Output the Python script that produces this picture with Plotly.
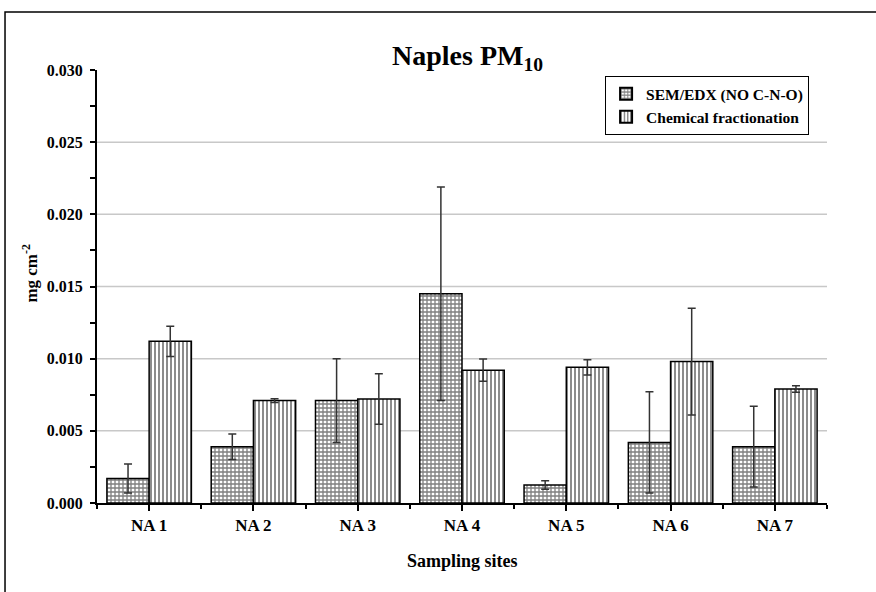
import plotly.graph_objects as go

# Sampling sites and measured PM10 deposits (mg cm-2)
sites = ["NA 1", "NA 2", "NA 3", "NA 4", "NA 5", "NA 6", "NA 7"]
sem_edx = [0.0017, 0.0039, 0.0071, 0.0145, 0.00125, 0.0042, 0.0039]
sem_edx_err = [0.0010, 0.00088, 0.0029, 0.0074, 0.0003, 0.0035, 0.0028]
chem_frac = [0.0112, 0.0071, 0.0072, 0.0092, 0.0094, 0.0098, 0.0079]
chem_frac_err = [0.00105, 0.00013, 0.00175, 0.00077, 0.00053, 0.0037, 0.00022]

y_ticks = [0.000, 0.005, 0.010, 0.015, 0.020, 0.025, 0.030]
grid_values = [0.005, 0.010, 0.015, 0.020, 0.025]

FONT = "Liberation Serif"
xpos = list(range(len(sites)))

fig = go.Figure()
fig.add_trace(go.Bar(
    name="<b>SEM/EDX (NO C-N-O)</b>", x=xpos, y=sem_edx,
    marker=dict(color="white", line=dict(color="black", width=1.5),
                pattern=dict(shape="+", size=4, solidity=0.55,
                             fgcolor="black", bgcolor="white")),
    error_y=dict(type="data", array=sem_edx_err, visible=True,
                 color="#333333", thickness=1.5, width=4),
))
fig.add_trace(go.Bar(
    name="<b>Chemical fractionation</b>", x=xpos, y=chem_frac,
    marker=dict(color="white", line=dict(color="black", width=1.5),
                pattern=dict(shape="|", size=4, solidity=0.45,
                             fgcolor="black", bgcolor="white")),
    error_y=dict(type="data", array=chem_frac_err, visible=True,
                 color="#333333", thickness=1.5, width=4),
))

# light horizontal grid lines
shapes = [dict(type="line", xref="paper", yref="y", x0=0, x1=1, y0=g, y1=g,
               line=dict(color="#c8c8c8", width=1.5), layer="below")
          for g in grid_values]
# outer frame around the figure
shapes.append(dict(type="rect", xref="paper", yref="paper",
                   x0=-0.126, x1=1.3, y0=-0.4, y1=1.134,
                   line=dict(color="black", width=1.5), layer="below"))

fig.update_layout(
    width=876, height=592,
    margin=dict(l=97, r=49, t=70, b=89),
    paper_bgcolor="white", plot_bgcolor="white",
    barmode="group", bargap=0.19, bargroupgap=0,
    font=dict(family=FONT, color="black"),
    shapes=shapes,
    showlegend=True,
    legend=dict(x=0.696, y=0.986, xanchor="left", yanchor="top",
                bordercolor="black", borderwidth=1, bgcolor="white",
                font=dict(family=FONT, size=15.5, color="black"),
                tracegroupgap=0, itemsizing="constant"),
    xaxis=dict(
        range=[-0.5, len(sites) - 0.5],
        tickmode="array", tickvals=xpos,
        ticktext=["<b>%s</b>" % s for s in sites],
        tickfont=dict(family=FONT, size=17),
        ticks="outside", ticklen=6, tickwidth=1.5, tickcolor="black",
        minor=dict(tickmode="linear", tick0=-0.5, dtick=1, ticks="outside",
                   ticklen=4, tickwidth=1.5, tickcolor="black"),
        showline=True, linecolor="black", linewidth=2,
        showgrid=False, zeroline=False,
    ),
    yaxis=dict(
        range=[0, 0.030],
        tickmode="array", tickvals=y_ticks,
        ticktext=["<b>%.3f</b>" % v for v in y_ticks],
        tickfont=dict(family=FONT, size=16),
        ticks="outside", ticklen=5, tickwidth=1.5, tickcolor="black",
        minor=dict(tickmode="linear", tick0=0, dtick=0.0025, ticks="outside",
                   ticklen=5, tickwidth=1.5, tickcolor="black"),
        showline=True, linecolor="black", linewidth=2,
        showgrid=False, zeroline=False,
        ticklabelstandoff=4,
    ),
    annotations=[
        dict(text="<b>Naples PM<sub>10</sub></b>", xref="paper", yref="paper",
             x=0.508, y=1.03, xanchor="center", yanchor="middle",
             showarrow=False, font=dict(family=FONT, size=28)),
        dict(text="<b>mg cm<sup>-2</sup></b>", xref="paper", yref="paper",
             x=-0.093, y=0.53, xanchor="center", yanchor="middle",
             textangle=-90, showarrow=False, font=dict(family=FONT, size=17)),
        dict(text="<b>Sampling sites</b>", xref="paper", yref="paper",
             x=0.5, y=-0.135, xanchor="center", yanchor="middle",
             showarrow=False, font=dict(family=FONT, size=18)),
    ],
)

fig.write_html("out.html")
